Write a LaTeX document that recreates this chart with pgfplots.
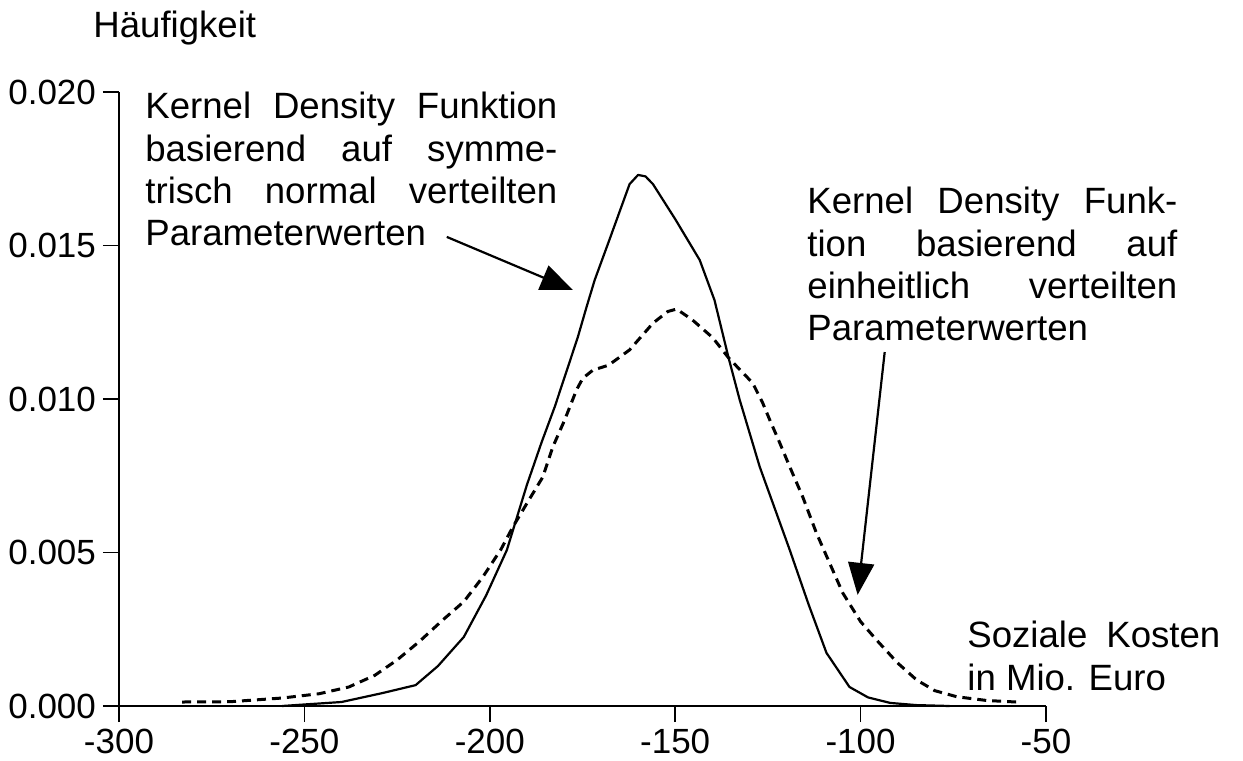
\documentclass[border=0pt]{standalone}
\usepackage{fontspec}
\setmainfont{Liberation Sans}
\usepackage{pgfplots}
\pgfplotsset{compat=1.18}
\usetikzlibrary{arrows.meta}

\pgfplotstableread{
x y
-256 0.00000
-250 0.00005
-240 0.00013
-229 0.00042
-220 0.00068
-214 0.00130
-207 0.00225
-201 0.00360
-195.4 0.00508
-190 0.00720
-186 0.00860
-182.5 0.00974
-176.3 0.01200
-173.9 0.01300
-171.7 0.01388
-168 0.01510
-165 0.01610
-162.3 0.01700
-160 0.01730
-158 0.01725
-156 0.01700
-150 0.01586
-143.4 0.01453
-139.4 0.01322
-135.6 0.01134
-132.6 0.00997
-127.2 0.00779
-119.1 0.00508
-114 0.00330
-109.2 0.00173
-103 0.00062
-98 0.00028
-92 0.00010
-85 0.00003
-76 0.00000
}\normaldata

\pgfplotstableread{
x y
-283 0.00013
-270 0.00014
-256 0.00026
-246 0.00040
-238 0.00062
-231 0.00100
-225 0.00150
-219 0.00210
-212.7 0.00280
-207 0.00340
-201.9 0.00420
-197 0.00510
-193.8 0.00583
-189.5 0.00670
-185.7 0.00746
-183 0.00844
-179.8 0.00932
-176.6 0.01030
-174.9 0.01068
-172.2 0.01094
-168 0.01110
-164.9 0.01137
-162.3 0.01160
-156 0.01247
-152 0.01285
-149.6 0.01293
-145.3 0.01257
-139.9 0.01200
-135.6 0.01134
-129.1 0.01052
-126.4 0.00987
-124.5 0.00932
-121.8 0.00857
-119.1 0.00779
-115.6 0.00681
-111.9 0.00563
-104.8 0.00368
-100 0.00275
-95.7 0.00215
-90 0.00140
-84.9 0.00085
-80 0.00050
-74 0.00030
-66 0.00018
-58 0.00013
}\uniformdata

\begin{document}
\begin{tikzpicture}
\begin{axis}[
  scale only axis,
  width=463.5pt, height=307pt,
  xmin=-300, xmax=-50, ymin=0, ymax=0.02,
  axis lines*=left,
  axis line style={line width=1pt},
  xtick={-300,-250,...,-50},
  ytick={0,0.005,0.01,0.015,0.02},
  scaled y ticks=false,
  tick align=outside,
  major tick length=8pt,
  tick style={line width=0.8pt, black},
  yticklabel style={/pgf/number format/fixed, /pgf/number format/fixed zerofill, /pgf/number format/precision=3},
  /pgf/number format/assume math mode=true,
  ticklabel style={font=\fontsize{17.5}{21}\selectfont},
  clip=false,
]
\addplot[black, line width=1.1pt, line join=round] table[x=x,y=y]{\normaldata};
\addplot[black, line width=1.5pt, dash pattern=on 4.5pt off 3pt] table[x=x,y=y]{\uniformdata};

\coordinate (O) at (rel axis cs:0,0);

\node[anchor=base west, inner sep=0pt, font=\fontsize{18.3}{21}\selectfont]
  at ([xshift=-13pt, yshift=27.5pt]rel axis cs:0,1) {Häufigkeit};

\node[anchor=north west, inner sep=0pt, text width=206pt, align=justify,
      font=\fontsize{18.3}{21.15}\selectfont]
  at ([xshift=13pt, yshift=0pt]rel axis cs:0,1)
  {Kernel Density Funktion\linebreak basierend auf symme-\linebreak trisch normal verteilten\linebreak Parameterwerten};

\node[anchor=north west, inner sep=0pt, text width=185pt, align=justify,
      font=\fontsize{18.3}{21.15}\selectfont]
  at ([xshift=344pt, yshift=-47.5pt]rel axis cs:0,1)
  {Kernel Density Funk-\linebreak tion basierend auf\linebreak einheitlich verteilten\linebreak Parameterwerten};

\node[anchor=north west, inner sep=0pt, text width=126.5pt, align=justify,
      font=\fontsize{18.3}{21.15}\selectfont]
  at ([xshift=424pt, yshift=42.5pt]rel axis cs:0,0)
  {Soziale Kosten\linebreak in Mio. Euro};

\draw[line width=1.1pt, -{Triangle[length=16pt, width=13pt]}]
  (axis cs:-211.6,0.01528) -- (axis cs:-177.6,0.01355);
\draw[line width=1.1pt, -{Triangle[length=16pt, width=13pt]}]
  (axis cs:-93.5,0.01153) -- (axis cs:-100.8,0.00362);
\end{axis}
\path (O) ++(-59.5pt,-27pt) rectangle ++(621.5pt,380pt);
\end{tikzpicture}
\end{document}
